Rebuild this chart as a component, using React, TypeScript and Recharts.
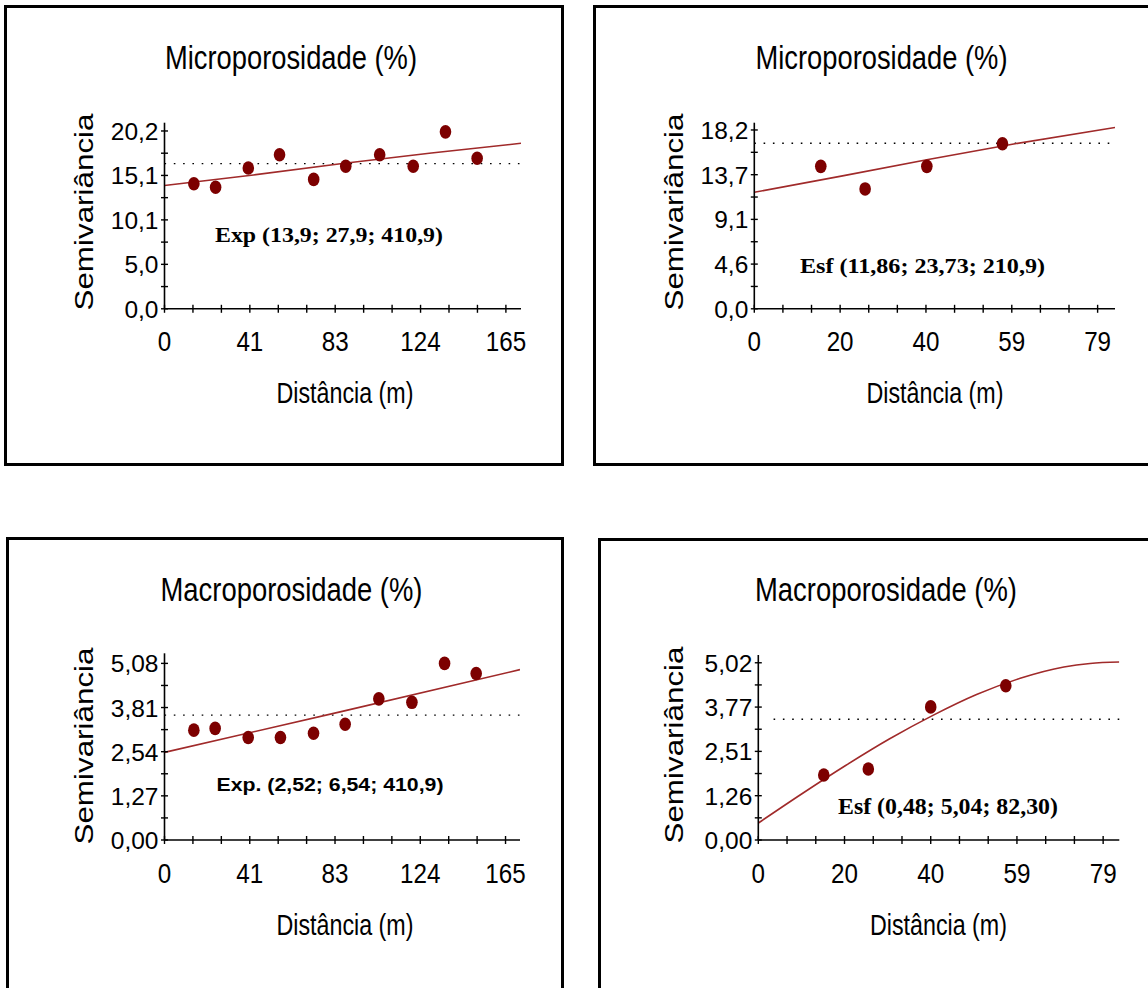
import React from "react";
import { ComposedChart, XAxis, YAxis, Scatter, Line, ReferenceLine } from "recharts";

// Microporosidade - modelo exponencial (painel superior esquerdo)
const microExpLag = [14.2, 24.7, 40.5, 55.6, 72.1, 87.6, 104.0, 120.2, 135.8, 151.1];
const microExpGamma = [14.2, 13.8, 16.0, 17.5, 14.7, 16.2, 17.5, 16.2, 20.1, 17.1];
const microExpModelLag = [0, 43, 86, 129, 172.3];
const microExpModelGamma = [14.0, 15.2, 16.5, 17.7, 18.8];
const microExpSill = 16.5;

// Microporosidade - modelo esférico (painel superior direito)
const microEsfLag = [15.3, 25.5, 39.7, 57.1];
const microEsfGamma = [14.5, 12.2, 14.5, 16.8];
const microEsfModelLag = [0, 20, 40, 60, 83];
const microEsfModelGamma = [11.86, 13.5, 15.2, 16.8, 18.45];
const microEsfSill = 16.85;

// Macroporosidade - modelo exponencial (painel inferior esquerdo)
const macroExpLag = [14.2, 24.5, 40.5, 56.1, 72.1, 87.4, 103.7, 119.7, 135.5, 150.8];
const macroExpGamma = [3.16, 3.21, 2.95, 2.95, 3.07, 3.33, 4.06, 3.96, 5.08, 4.79];
const macroExpModelLag = [0, 86, 172];
const macroExpModelGamma = [2.52, 3.7, 4.9];
const macroExpSill = 3.59;

// Macroporosidade - modelo esférico (painel inferior direito)
const macroEsfLag = [15.0, 25.2, 39.5, 56.7];
const macroEsfGamma = [1.84, 2.01, 3.77, 4.37];
const macroEsfModelLag = [0, 10, 20, 30, 40, 50, 60, 70, 76, 82.7];
const macroEsfModelGamma = [0.48, 1.31, 2.11, 2.86, 3.53, 4.12, 4.58, 4.9, 5.0, 5.04];
const macroEsfSill = 3.42;

// tick marks (valor / rótulo)
const longLagTicks = [0, 41.25, 82.5, 123.75, 165];
const longLagLabels = ["0", "41", "83", "124", "165"];
const shortLagTicks = [0, 19.75, 39.5, 59.25, 79];
const shortLagLabels = ["0", "20", "40", "59", "79"];
const microExpTicks = [0, 5.05, 10.1, 15.15, 20.2];
const microExpLabels = ["0,0", "5,0", "10,1", "15,1", "20,2"];
const microEsfTicks = [0, 4.55, 9.1, 13.65, 18.2];
const microEsfLabels = ["0,0", "4,6", "9,1", "13,7", "18,2"];
const macroExpTicks = [0, 1.27, 2.54, 3.81, 5.08];
const macroExpLabels = ["0,00", "1,27", "2,54", "3,81", "5,08"];
const macroEsfTicks = [0, 1.255, 2.51, 3.765, 5.02];
const macroEsfLabels = ["0,00", "1,26", "2,51", "3,77", "5,02"];

const SANS = "'Liberation Sans', Arial, sans-serif";
const SERIF = "'Liberation Serif', 'Times New Roman', serif";
const POINT = "#7d0000";
const MODEL = "#a02a2a";
const DOTS = "1.6 7.7";
const Y_AXIS_W = 40;
const X_AXIS_H = 40;

const zip = (xs: number[], ys: number[]) => xs.map((x, i) => ({ x, y: ys[i] }));

// subdivide major ticks into minor marks
function withMinor(majors: number[], parts: number) {
  const out: number[] = [];
  for (let i = 0; i < majors.length - 1; i++) {
    const step = (majors[i + 1] - majors[i]) / parts;
    for (let k = 0; k < parts; k++) out.push(majors[i] + k * step);
  }
  out.push(majors[majors.length - 1]);
  return out;
}

const labelFor = (majors: number[], labels: string[], v: number) => {
  const i = majors.findIndex((m) => Math.abs(m - v) < 1e-6);
  return i >= 0 ? labels[i] : null;
};

type Box = { x: number; y: number; w: number; h: number };

type PanelProps = {
  box: Box;
  plot: { x0: number; x1: number; y0: number; y1: number };
  xMax: number;
  yMax: number;
  xTicks: number[];
  xLabels: string[];
  yTicks: number[];
  yLabels: string[];
  points: { x: number; y: number }[];
  model: { x: number; y: number }[];
  curved?: boolean;
  sill: number;
  sillStart?: number;
  title: string;
  titleAt: [number, number, number];
  yLabelAt: [number, number];
  xLabelAt: [number, number];
  note: string;
  noteAt: [number, number, number, number];
  noteSans?: boolean;
};

function Panel(p: PanelProps) {
  const { box, plot } = p;
  const margin = {
    left: plot.x0 - box.x - Y_AXIS_W,
    right: box.x + box.w - plot.x1,
    top: plot.y0 - box.y,
    bottom: box.y + box.h - plot.y1 - X_AXIS_H,
  };
  const lx = (v: number) => v - box.x;
  const ly = (v: number) => v - box.y;
  const axisY = ly(plot.y1);
  const axisX = lx(plot.x0);

  const XTick = (t: any) => {
    const lab = labelFor(p.xTicks, p.xLabels, t.payload.value);
    return (
      <g>
        <line x1={t.x} x2={t.x} y1={axisY - 4} y2={axisY + 4} stroke="#000" strokeWidth={1.4} />
        {lab !== null && (
          <text
            transform={`translate(${t.x},${axisY + 42.5}) scale(0.88,1)`}
            textAnchor="middle"
            fontSize={27.5}
            fontFamily={SANS}
            fill="#000"
          >
            {lab}
          </text>
        )}
      </g>
    );
  };
  const YTick = (t: any) => {
    const lab = labelFor(p.yTicks, p.yLabels, t.payload.value);
    return (
      <g>
        <line x1={axisX - 3.5} x2={axisX + 3.5} y1={t.y} y2={t.y} stroke="#000" strokeWidth={1.4} />
        {lab !== null && (
          <text x={axisX - 6} y={t.y + 9} textAnchor="end" fontSize={24.5} fontFamily={SANS} fill="#000">
            {lab}
          </text>
        )}
      </g>
    );
  };

  const [tcx, tby, tlen] = p.titleAt;
  const [ncx, nby, nlen, nfs] = p.noteAt;

  return (
    <>
      <div
        style={{
          position: "absolute",
          left: box.x,
          top: box.y,
          width: box.w,
          height: box.h,
          border: "3px solid #000",
          boxSizing: "border-box",
        }}
      />
      <div style={{ position: "absolute", left: box.x, top: box.y }}>
        <ComposedChart width={box.w} height={box.h} margin={margin}>
          <XAxis
            type="number"
            dataKey="x"
            domain={[0, p.xMax]}
            ticks={withMinor(p.xTicks, 3)}
            interval={0}
            height={X_AXIS_H}
            tickLine={false}
            tick={XTick}
            axisLine={{ stroke: "#000", strokeWidth: 1.6 }}
            allowDataOverflow
          />
          <YAxis
            type="number"
            dataKey="y"
            domain={[0, p.yMax]}
            ticks={withMinor(p.yTicks, 2)}
            interval={0}
            width={Y_AXIS_W}
            tickLine={false}
            tick={YTick}
            axisLine={{ stroke: "#000", strokeWidth: 1.6 }}
            allowDataOverflow
          />
          {p.sillStart !== undefined ? (
            <ReferenceLine
              segment={[
                { x: p.sillStart, y: p.sill },
                { x: p.xMax, y: p.sill },
              ]}
              stroke="#000"
              strokeWidth={1.3}
              strokeDasharray={DOTS}
            />
          ) : (
            <ReferenceLine y={p.sill} stroke="#000" strokeWidth={1.3} strokeDasharray={DOTS} />
          )}
          <Line
            data={p.model}
            dataKey="y"
            type={p.curved ? "monotone" : "linear"}
            stroke={MODEL}
            strokeWidth={1.6}
            dot={false}
            activeDot={false}
            isAnimationActive={false}
          />
          <Scatter
            data={p.points}
            fill={POINT}
            isAnimationActive={false}
            shape={(s: any) => <ellipse cx={s.cx} cy={s.cy} rx={5.8} ry={6.8} fill={POINT} />}
          />
          <text
            x={lx(tcx) - tlen / 2}
            y={ly(tby)}
            fontSize={33.5}
            fontFamily={SANS}
            fill="#000"
            textLength={tlen}
            lengthAdjust="spacingAndGlyphs"
          >
            {p.title}
          </text>
          <text
            transform={`translate(${lx(p.yLabelAt[0])},${ly(p.yLabelAt[1])}) rotate(-90)`}
            x={-98.5}
            y={0}
            fontSize={25.5}
            fontFamily={SANS}
            fill="#000"
            textLength={197}
            lengthAdjust="spacingAndGlyphs"
          >
            Semivariância
          </text>
          <text
            x={lx(p.xLabelAt[0]) - 68.5}
            y={ly(p.xLabelAt[1])}
            fontSize={29}
            fontFamily={SANS}
            fill="#000"
            textLength={137}
            lengthAdjust="spacingAndGlyphs"
          >
            Distância (m)
          </text>
          <text
            x={lx(ncx) - nlen / 2}
            y={ly(nby)}
            fontSize={nfs}
            fontFamily={p.noteSans ? SANS : SERIF}
            fontWeight="bold"
            fill="#000"
            textLength={nlen}
            lengthAdjust="spacingAndGlyphs"
          >
            {p.note}
          </text>
        </ComposedChart>
      </div>
    </>
  );
}

export default function App() {
  return (
    <div
      style={{
        position: "absolute",
        left: 0,
        top: 0,
        width: 1148,
        height: 988,
        overflow: "hidden",
        background: "#fff",
      }}
    >
      <Panel
        box={{ x: 4, y: 5, w: 560, h: 461 }}
        plot={{ x0: 164.5, x1: 521, y0: 122.7, y1: 308.8 }}
        xMax={172.3}
        yMax={21.14}
        xTicks={longLagTicks}
        xLabels={longLagLabels}
        yTicks={microExpTicks}
        yLabels={microExpLabels}
        points={zip(microExpLag, microExpGamma)}
        model={zip(microExpModelLag, microExpModelGamma)}
        sill={microExpSill}
        title="Microporosidade (%)"
        titleAt={[291, 69, 252]}
        yLabelAt={[93, 212]}
        xLabelAt={[345, 403]}
        note="Exp (13,9; 27,9; 410,9)"
        noteAt={[329, 241.7, 228, 21]}
      />
      <Panel
        box={{ x: 593, y: 5, w: 560, h: 461 }}
        plot={{ x0: 754.3, x1: 1115, y0: 122.7, y1: 308.8 }}
        xMax={83}
        yMax={18.94}
        xTicks={shortLagTicks}
        xLabels={shortLagLabels}
        yTicks={microEsfTicks}
        yLabels={microEsfLabels}
        points={zip(microEsfLag, microEsfGamma)}
        model={zip(microEsfModelLag, microEsfModelGamma)}
        sill={microEsfSill}
        title="Microporosidade (%)"
        titleAt={[881.5, 69, 252]}
        yLabelAt={[683, 212]}
        xLabelAt={[935, 403]}
        note="Esf (11,86; 23,73; 210,9)"
        noteAt={[922.5, 273.3, 245, 21.5]}
      />
      <Panel
        box={{ x: 6, y: 537, w: 558, h: 460 }}
        plot={{ x0: 164.5, x1: 520, y0: 653.3, y1: 840 }}
        xMax={172}
        yMax={5.37}
        xTicks={longLagTicks}
        xLabels={longLagLabels}
        yTicks={macroExpTicks}
        yLabels={macroExpLabels}
        points={zip(macroExpLag, macroExpGamma)}
        model={zip(macroExpModelLag, macroExpModelGamma)}
        sill={macroExpSill}
        title="Macroporosidade (%)"
        titleAt={[291.5, 601, 262]}
        yLabelAt={[93, 746]}
        xLabelAt={[345, 935]}
        note="Exp. (2,52; 6,54; 410,9)"
        noteAt={[330, 791, 227, 18]}
        noteSans
      />
      <Panel
        box={{ x: 598, y: 538, w: 560, h: 460 }}
        plot={{ x0: 758.3, x1: 1119.3, y0: 655, y1: 840 }}
        xMax={82.7}
        yMax={5.24}
        xTicks={shortLagTicks}
        xLabels={shortLagLabels}
        yTicks={macroEsfTicks}
        yLabels={macroEsfLabels}
        points={zip(macroEsfLag, macroEsfGamma)}
        model={zip(macroEsfModelLag, macroEsfModelGamma)}
        curved
        sill={macroEsfSill}
        sillStart={3.5}
        title="Macroporosidade (%)"
        titleAt={[886, 601, 262]}
        yLabelAt={[683, 745]}
        xLabelAt={[938.5, 935]}
        note="Esf (0,48; 5,04; 82,30)"
        noteAt={[948, 814, 220, 22.5]}
      />
    </div>
  );
}
